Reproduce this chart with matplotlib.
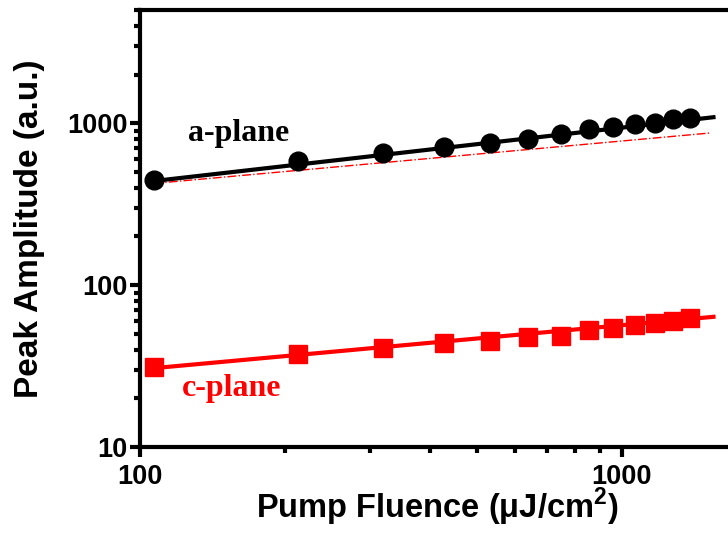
import matplotlib
matplotlib.use("Agg")
import matplotlib.pyplot as plt
from matplotlib.ticker import LogLocator, NullFormatter, FixedLocator, FixedFormatter

# pump fluence (uJ/cm^2)
fluence = [107, 213, 320, 427, 533, 640, 747, 853, 960, 1067, 1173, 1280, 1387]
# peak amplitudes (a.u.)
a_plane = [445, 582, 653, 711, 753, 797, 855, 919, 945, 986, 1000, 1058, 1075]
c_plane = [31.3, 37.5, 40.7, 43.6, 45.1, 47.5, 48.4, 52.7, 54.5, 56.6, 58.5, 60.2, 62.3]

# power-law fits, given by their end points
fit_x = [107, 1550]
a_fit = [440, 1090]
c_fit = [30.7, 63.7]
ref_x = [107, 1520]
ref_y = [425, 870]

plt.rcParams['font.family'] = ['Liberation Sans', 'DejaVu Sans']
plt.rcParams['font.weight'] = 'bold'
plt.rcParams['mathtext.fontset'] = 'custom'
plt.rcParams['mathtext.rm'] = 'Liberation Sans'

fig = plt.figure(figsize=(7.28, 5.34), dpi=100)
ax = fig.add_axes([0.1923, 0.163, 0.861, 0.818])

ax.plot(fit_x, a_fit, color='black', lw=3, zorder=2)
ax.plot(fluence, a_plane, 'o', color='black', ms=13.5, zorder=3)
ax.plot(ref_x, ref_y, color='red', lw=1, ls='-.', zorder=1)
ax.plot(fit_x, c_fit, color='red', lw=3, zorder=2)
ax.plot(fluence, c_plane, 's', color='red', ms=12.5, zorder=3)

ax.set_xscale('log')
ax.set_yscale('log')
ax.set_xlim(100, 2000)
ax.set_ylim(10, 5000)

ax.xaxis.set_major_locator(FixedLocator([100, 1000]))
ax.xaxis.set_major_formatter(FixedFormatter(['100', '1000']))
ax.yaxis.set_major_locator(FixedLocator([10, 100, 1000]))
ax.yaxis.set_major_formatter(FixedFormatter(['10', '100', '1000']))
for axis in (ax.xaxis, ax.yaxis):
    axis.set_minor_locator(LogLocator(base=10, subs=range(2, 10)))
    axis.set_minor_formatter(NullFormatter())

for s in ax.spines.values():
    s.set_linewidth(3)
ax.tick_params(which='major', direction='out', length=7, width=3, labelsize=19.5)
ax.tick_params(axis='x', which='major', pad=5)
ax.tick_params(axis='y', which='major', pad=2)
ax.tick_params(which='minor', direction='out', length=4, width=3)
for lbl in ax.get_xticklabels() + ax.get_yticklabels():
    lbl.set_fontweight('bold')

ax.set_xlabel('Pump Fluence (\u03bcJ/cm$^{\\mathrm{2}}$)', fontsize=23.5, fontweight='bold')
ax.xaxis.set_label_coords(0.475, -0.09)
ax.set_ylabel('Peak Amplitude (a.u.)', fontsize=24, fontweight='bold', labelpad=16)

ax.text(160, 870, 'a-plane', family='Liberation Serif', fontsize=23, fontweight='bold',
        color='black', ha='center', va='center')
ax.text(155, 23.1, 'c-plane', family='Liberation Serif', fontsize=23, fontweight='bold',
        color='red', ha='center', va='center')

fig.savefig('out.png', dpi=100)
